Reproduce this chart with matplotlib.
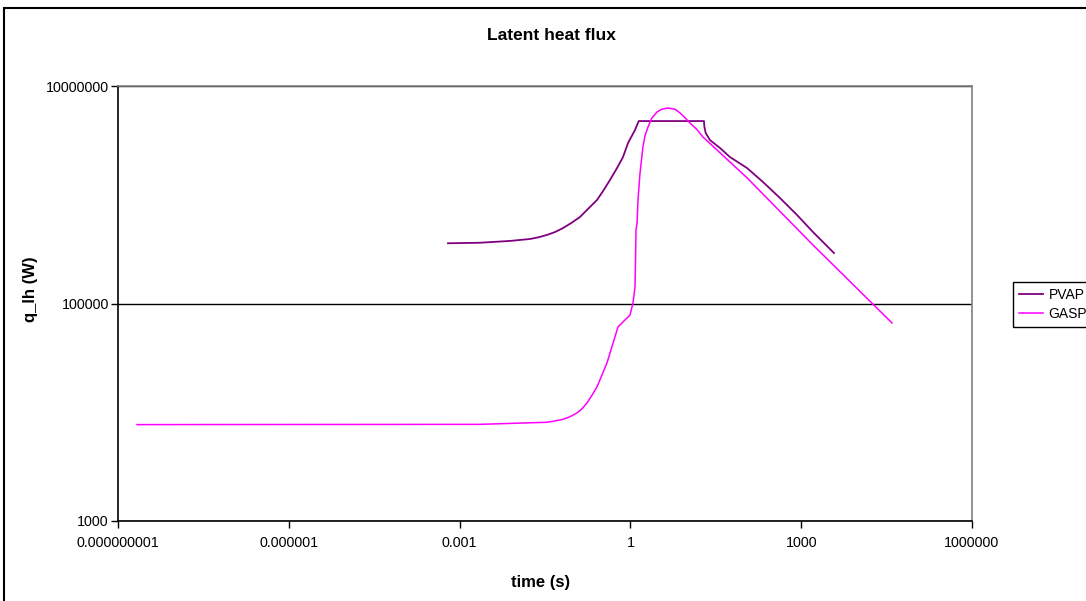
import matplotlib
matplotlib.use('Agg')
import matplotlib.pyplot as plt
from matplotlib.patches import Rectangle

plt.rcParams['font.family'] = ['Liberation Sans', 'DejaVu Sans']

# PVAP series (time in s, q_lh in W)
pvap_time = [6.25e-4, 2.28e-3, 7.67e-3, 0.0115, 0.0173, 0.0241, 0.0343, 0.0474, 0.0655,
             0.0931, 0.130, 0.182, 0.259, 0.334, 0.439, 0.582, 0.741, 0.908, 1.205, 1.40,
             19.6, 19.9, 21.0, 25.0, 37.5, 56.1, 112, 213, 424, 844, 1612, 3770]
pvap_q = [3.58e5, 3.62e5, 3.76e5, 3.84e5, 3.92e5, 4.06e5, 4.27e5, 4.54e5, 4.94e5,
          5.53e5, 6.24e5, 7.45e5, 8.95e5, 1.09e6, 1.37e6, 1.76e6, 2.22e6, 2.99e6, 3.94e6,
          4.76e6, 4.76e6, 4.23e6, 3.70e6, 3.18e6, 2.69e6, 2.22e6, 1.76e6, 1.31e6, 9.33e5,
          6.52e5, 4.54e5, 2.91e5]

# GASP series
gasp_time = [2.16e-9, 2.28e-3, 0.0343, 0.0474, 0.0655, 0.0869, 0.115, 0.140, 0.173, 0.209,
             0.259, 0.313, 0.388, 0.605, 0.750, 0.984, 1.11, 1.205, 1.23, 1.254, 1.31, 1.36,
             1.475, 1.66, 1.80, 2.04, 2.37, 2.93, 3.55, 4.58, 6.08, 7.44, 9.10, 11.1, 14.6,
             18.8, 112, 1612, 3.94e4]
gasp_q = [7.7e3, 7.74e3, 8.09e3, 8.32e3, 8.61e3, 9.10e3, 9.84e3, 1.07e4, 1.22e4, 1.42e4,
          1.71e4, 2.17e4, 2.84e4, 6.08e4, 6.81e4, 7.83e4, 1.01e5, 1.42e5, 2.51e5, 4.74e5,
          5.50e5, 8.95e5, 1.58e6, 2.75e6, 3.47e6, 4.20e6, 5.05e6, 5.77e6, 6.11e6, 6.28e6,
          6.11e6, 5.65e6, 5.11e6, 4.57e6, 4.00e6, 3.40e6, 1.43e6, 3.45e5, 6.62e4]

x_ticks = [1e-9, 1e-6, 1e-3, 1, 1e3, 1e6]
x_tick_labels = ['0.000000001', '0.000001', '0.001', '1', '1000', '1000000']
y_ticks = [1e3, 1e5, 1e7]
y_tick_labels = ['1000', '100000', '10000000']

W, H = 1086, 601
fig = plt.figure(figsize=(W / 100, H / 100), dpi=100)
fig.patches.append(Rectangle((4 / W, -0.1), 1.2, 1.1 - 8 / H, transform=fig.transFigure,
                             fill=False, edgecolor='black', linewidth=1.5))

ax = fig.add_axes([118 / W, 1 - 521 / H, 854 / W, 435 / H])
ax.plot(pvap_time, pvap_q, color='#800080', linewidth=1.3, label='PVAP')
ax.plot(gasp_time, gasp_q, color='#FF00FF', linewidth=1.1, label='GASP')

ax.set_xscale('log')
ax.set_yscale('log')
ax.set_xlim(1e-9, 1e6)
ax.set_ylim(1e3, 1e7)
ax.set_xticks(x_ticks, x_tick_labels)
ax.set_yticks(y_ticks, y_tick_labels)
ax.minorticks_off()
ax.tick_params(direction='out', length=5, width=1, labelsize=10.3, colors='black')
ax.tick_params(axis='x', pad=6)
ax.tick_params(axis='y', pad=1.5)
ax.grid(axis='y', color='black', linewidth=1)
ax.grid(axis='x', visible=False)

for side in ['left', 'bottom']:
    ax.spines[side].set_color('black')
    ax.spines[side].set_linewidth(1.2)
for side in ['top', 'right']:
    ax.spines[side].set_color('#808080')
    ax.spines[side].set_linewidth(1.2)

fig.text(551 / W, 1 - 35 / H, 'Latent heat flux', ha='center', va='center',
         fontsize=12.5, fontweight='bold')
fig.text(541 / W, 1 - 583 / H, 'time (s)', ha='center', va='center',
         fontsize=12, fontweight='bold')
fig.text(31 / W, 1 - 289 / H, 'q_lh (W)', ha='center', va='center', rotation=90,
         fontsize=12, fontweight='bold')

leg = ax.legend(loc='upper left', bbox_to_anchor=(1013 / W, 1 - 282 / H),
                bbox_transform=fig.transFigure, borderaxespad=0, fontsize=10,
                fancybox=False, framealpha=1, edgecolor='black', handlelength=1.7,
                handletextpad=0.4, borderpad=0.45, labelspacing=0.35)
leg.get_frame().set_linewidth(1)

fig.savefig('out.png', dpi=100)
